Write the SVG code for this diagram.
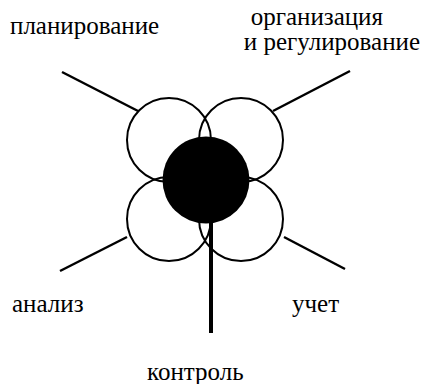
<svg xmlns="http://www.w3.org/2000/svg" width="426" height="384" viewBox="0 0 426 384">
<defs>
<circle id="ringShape" r="42" fill="none" stroke="#000" stroke-width="2"/>
</defs>
<rect width="426" height="384" fill="#fff"/>
<g id="connectors" stroke="#000" stroke-width="2.5" fill="none">
<line x1="62" y1="72" x2="138" y2="111"/>
<line x1="350" y1="71" x2="273" y2="111"/>
<line x1="60" y1="271" x2="127" y2="237"/>
<line x1="345" y1="269" x2="284" y2="237"/>
<line x1="211" y1="222" x2="211" y2="333" stroke-width="4"/>
</g>
<g id="planning"><use href="#ringShape" x="169" y="140"/></g>
<g id="organization"><use href="#ringShape" x="241" y="140"/></g>
<g id="analysis"><use href="#ringShape" x="169" y="219"/></g>
<g id="accounting"><use href="#ringShape" x="241" y="219"/></g>
<g id="core"><circle cx="206" cy="180" r="43.5" fill="#000"/></g>
<text x="10" y="34" font-family="Liberation Serif" font-size="25">планирование</text>
<text x="383" y="25" font-family="Liberation Serif" font-size="25" text-anchor="end">организация</text>
<text x="420" y="50" font-family="Liberation Serif" font-size="25" text-anchor="end">и регулирование</text>
<text x="12" y="312" font-family="Liberation Serif" font-size="25">анализ</text>
<text x="292" y="312" font-family="Liberation Serif" font-size="25">учет</text>
<text x="147" y="380" font-family="Liberation Serif" font-size="25">контроль</text>
</svg>
